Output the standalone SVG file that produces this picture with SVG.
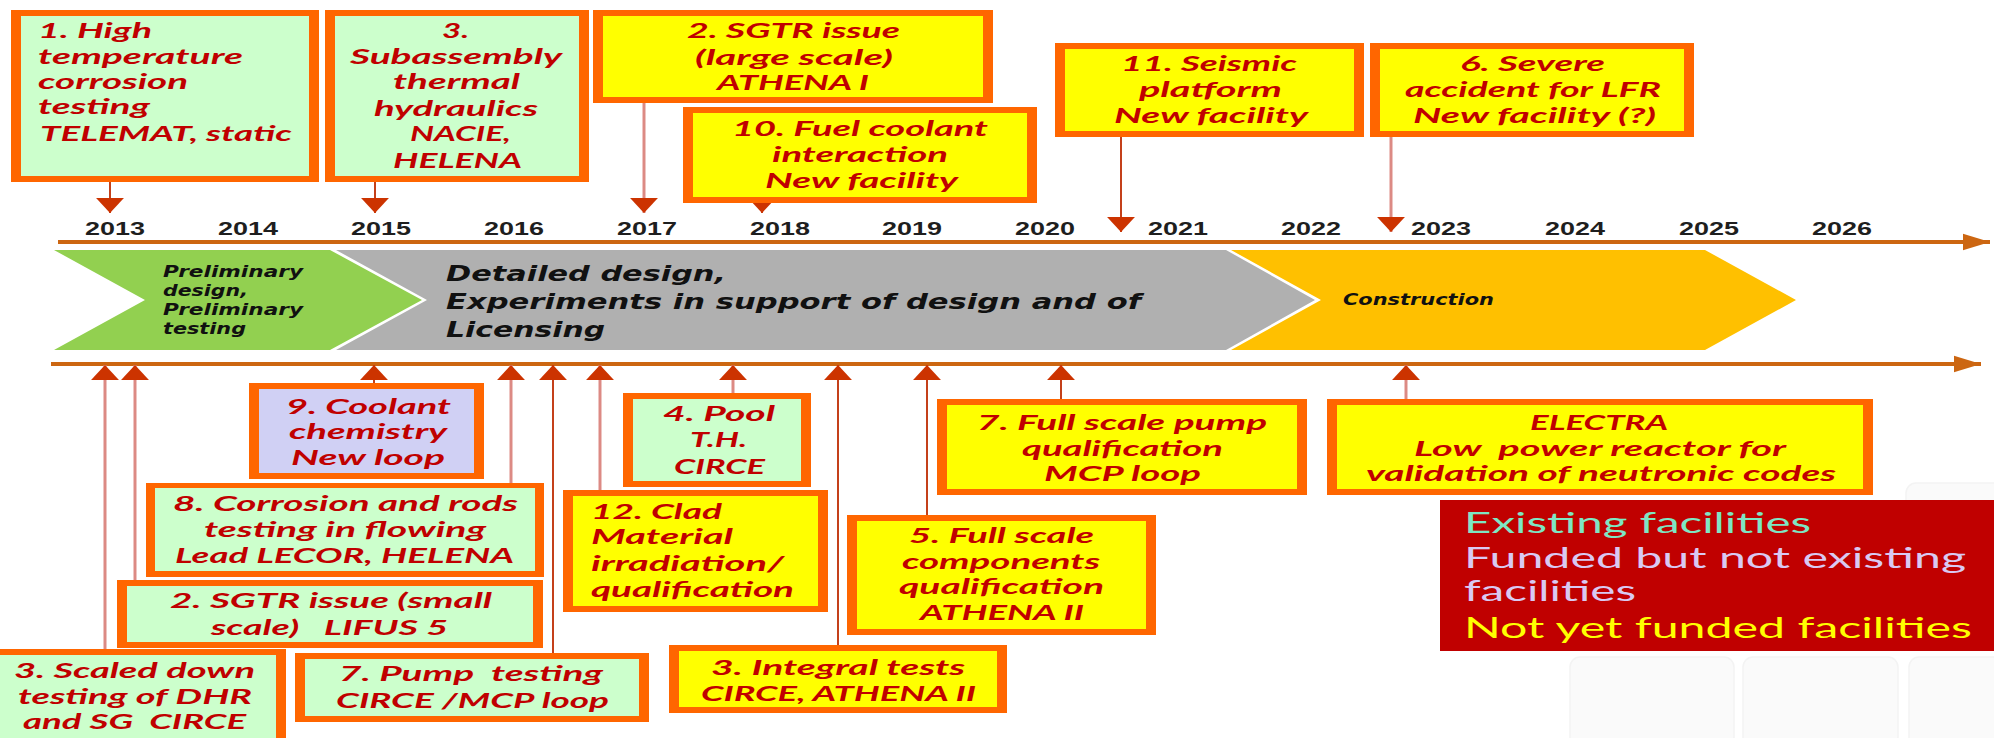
<svg xmlns="http://www.w3.org/2000/svg" width="1994" height="738" viewBox="0 0 1994 738">
  <style>
    .bo { fill: #ff6600; }
    .g { fill: #ccffcc; }
    .y { fill: #ffff00; }
    .l { fill: #d0d0f4; }
    .t { font-family: Lato, "Open Sans", sans-serif; font-weight: 700; font-style: italic; font-size: 21px; fill: #c00000; }
    .yr { font-family: "Liberation Sans", Arial, sans-serif; font-weight: 700; font-size: 19px; fill: #1e1e1e; }
    .band { font-family: "DejaVu Sans", Verdana, sans-serif; font-weight: 700; font-style: italic; fill: #111111; }
    .lg { font-family: Lato, "Open Sans", sans-serif; font-size: 29px; }
    .axis { stroke: #cc6611; stroke-width: 4; fill: none; }
    .pk { stroke: #dc8a84; stroke-width: 3; fill: none; }
    .sd { stroke: #c4401a; stroke-width: 2; fill: none; }
    .deco { fill: #fafafa; stroke: #f3f3f3; stroke-width: 1.5; }
  </style>
  <defs>
    <marker id="ah" markerUnits="userSpaceOnUse" markerWidth="15" markerHeight="28" viewBox="0 -13 14 26" refX="14" refY="0" orient="auto">
      <path d="M0,-13 L14,0 L0,13 Z" fill="#cc3300"/>
    </marker>
    <marker id="axh" markerUnits="userSpaceOnUse" markerWidth="27" markerHeight="18" viewBox="0 -8 26 16" refX="26" refY="0" orient="auto">
      <path d="M0,-8 L26,0 L0,8 Z" fill="#cc6611"/>
    </marker>
  </defs>

  <rect width="1994" height="738" fill="#ffffff"/>

  <!-- faint background tiles, bottom right -->
  <g id="tiles">
    <rect class="deco" x="1906" y="483" width="100" height="60" rx="10"/>
    <rect class="deco" x="1570" y="657" width="164" height="90" rx="10"/>
    <rect class="deco" x="1743" y="657" width="155" height="90" rx="10"/>
    <rect class="deco" x="1909" y="657" width="100" height="90" rx="10"/>
  </g>

  <!-- time axes -->
  <g id="axes">
    <line class="axis" x1="58" y1="242" x2="1990" y2="242" marker-end="url(#axh)"/>
    <line class="axis" x1="51" y1="364" x2="1981" y2="364" marker-end="url(#axh)"/>
  </g>

  <!-- year labels -->
  <g id="years">
    <text class="yr" x="85" y="235" textLength="60" lengthAdjust="spacingAndGlyphs">2013</text>
    <text class="yr" x="218" y="235" textLength="60" lengthAdjust="spacingAndGlyphs">2014</text>
    <text class="yr" x="351" y="235" textLength="60" lengthAdjust="spacingAndGlyphs">2015</text>
    <text class="yr" x="484" y="235" textLength="60" lengthAdjust="spacingAndGlyphs">2016</text>
    <text class="yr" x="617" y="235" textLength="60" lengthAdjust="spacingAndGlyphs">2017</text>
    <text class="yr" x="750" y="235" textLength="60" lengthAdjust="spacingAndGlyphs">2018</text>
    <text class="yr" x="882" y="235" textLength="60" lengthAdjust="spacingAndGlyphs">2019</text>
    <text class="yr" x="1015" y="235" textLength="60" lengthAdjust="spacingAndGlyphs">2020</text>
    <text class="yr" x="1148" y="235" textLength="60" lengthAdjust="spacingAndGlyphs">2021</text>
    <text class="yr" x="1281" y="235" textLength="60" lengthAdjust="spacingAndGlyphs">2022</text>
    <text class="yr" x="1411" y="235" textLength="60" lengthAdjust="spacingAndGlyphs">2023</text>
    <text class="yr" x="1545" y="235" textLength="60" lengthAdjust="spacingAndGlyphs">2024</text>
    <text class="yr" x="1679" y="235" textLength="60" lengthAdjust="spacingAndGlyphs">2025</text>
    <text class="yr" x="1812" y="235" textLength="60" lengthAdjust="spacingAndGlyphs">2026</text>
  </g>

  <!-- phase band -->
  <g id="phase-preliminary">
    <path d="M54,250 L330,250 L422,300 L330,350 L54,350 L145,300 Z" fill="#92d050"/>
    <text class="band" font-size="15" x="163" y="277" textLength="140" lengthAdjust="spacingAndGlyphs">Preliminary</text>
    <text class="band" font-size="15" x="163" y="296" textLength="85" lengthAdjust="spacingAndGlyphs">design,</text>
    <text class="band" font-size="15" x="163" y="315" textLength="140" lengthAdjust="spacingAndGlyphs">Preliminary</text>
    <text class="band" font-size="15" x="163" y="334" textLength="83" lengthAdjust="spacingAndGlyphs">testing</text>
  </g>
  <g id="phase-detailed">
    <path d="M336,250 L1226,250 L1315,300 L1226,350 L336,350 L427,300 Z" fill="#b0b0b0"/>
    <text class="band" font-size="22" x="446" y="281" textLength="280" lengthAdjust="spacingAndGlyphs">Detailed design,</text>
    <text class="band" font-size="22" x="446" y="309" textLength="695" lengthAdjust="spacingAndGlyphs">Experiments in support of design and of</text>
    <text class="band" font-size="22" x="446" y="337" textLength="159" lengthAdjust="spacingAndGlyphs">Licensing</text>
  </g>
  <g id="phase-construction">
    <path d="M1231,250 L1705,250 L1796,300 L1705,350 L1231,350 L1321,300 Z" fill="#ffc000"/>
    <text class="band" font-size="15" x="1343" y="305" textLength="151" lengthAdjust="spacingAndGlyphs">Construction</text>
  </g>

  <!-- connectors -->
  <g id="connectors">
    <line class="sd" x1="110" y1="182" x2="110" y2="213" marker-end="url(#ah)"/>
    <line class="sd" x1="375" y1="182" x2="375" y2="213" marker-end="url(#ah)"/>
    <line class="pk" x1="644" y1="103" x2="644" y2="213" marker-end="url(#ah)"/>
    <line class="sd" x1="762" y1="198" x2="762" y2="213" marker-end="url(#ah)"/>
    <line class="sd" x1="1121" y1="137" x2="1121" y2="232" marker-end="url(#ah)"/>
    <line class="pk" x1="1391" y1="137" x2="1391" y2="232" marker-end="url(#ah)"/>

    <line class="pk" x1="105" y1="652" x2="105" y2="365" marker-end="url(#ah)"/>
    <line class="pk" x1="135" y1="583" x2="135" y2="365" marker-end="url(#ah)"/>
    <line class="sd" x1="374" y1="386" x2="374" y2="365" marker-end="url(#ah)"/>
    <line class="pk" x1="511" y1="486" x2="511" y2="365" marker-end="url(#ah)"/>
    <line class="sd" x1="553" y1="656" x2="553" y2="365" marker-end="url(#ah)"/>
    <line class="pk" x1="600" y1="493" x2="600" y2="365" marker-end="url(#ah)"/>
    <line class="pk" x1="733" y1="396" x2="733" y2="365" marker-end="url(#ah)"/>
    <line class="sd" x1="838" y1="648" x2="838" y2="365" marker-end="url(#ah)"/>
    <line class="sd" x1="927" y1="518" x2="927" y2="365" marker-end="url(#ah)"/>
    <line class="sd" x1="1061" y1="402" x2="1061" y2="365" marker-end="url(#ah)"/>
    <line class="pk" x1="1406" y1="402" x2="1406" y2="365" marker-end="url(#ah)"/>
  </g>

  <!-- facility boxes above the axis -->
  <g id="telemat">
    <rect class="bo" x="11" y="10" width="308" height="172"/>
    <rect class="g" x="21" y="16" width="288" height="160"/>
    <text class="t" x="38" y="38" textLength="114" lengthAdjust="spacingAndGlyphs">1. High</text>
    <text class="t" x="38" y="64" textLength="205" lengthAdjust="spacingAndGlyphs">temperature</text>
    <text class="t" x="38" y="89" textLength="150" lengthAdjust="spacingAndGlyphs">corrosion</text>
    <text class="t" x="38" y="114" textLength="112" lengthAdjust="spacingAndGlyphs">testing</text>
    <text class="t" x="40" y="141" textLength="252" lengthAdjust="spacingAndGlyphs">TELEMAT, static</text>
  </g>
  <g id="subassembly">
    <rect class="bo" x="325" y="10" width="264" height="172"/>
    <rect class="g" x="335" y="16" width="244" height="160"/>
    <text class="t" x="442" y="38" textLength="27" lengthAdjust="spacingAndGlyphs">3.</text>
    <text class="t" x="350" y="64" textLength="212" lengthAdjust="spacingAndGlyphs">Subassembly</text>
    <text class="t" x="393" y="89" textLength="127" lengthAdjust="spacingAndGlyphs">thermal</text>
    <text class="t" x="374" y="116" textLength="164" lengthAdjust="spacingAndGlyphs">hydraulics</text>
    <text class="t" x="410" y="141" textLength="101" lengthAdjust="spacingAndGlyphs">NACIE,</text>
    <text class="t" x="393" y="168" textLength="129" lengthAdjust="spacingAndGlyphs">HELENA</text>
  </g>
  <g id="sgtr-large">
    <rect class="bo" x="593" y="10" width="400" height="93"/>
    <rect class="y" x="603" y="16" width="380" height="81"/>
    <text class="t" x="687" y="38" textLength="213" lengthAdjust="spacingAndGlyphs">2. SGTR issue</text>
    <text class="t" x="695" y="65" textLength="198" lengthAdjust="spacingAndGlyphs">(large scale)</text>
    <text class="t" x="717" y="90" textLength="152" lengthAdjust="spacingAndGlyphs">ATHENA I</text>
  </g>
  <g id="fuel-coolant">
    <rect class="bo" x="683" y="107" width="354" height="96"/>
    <rect class="y" x="693" y="113" width="334" height="84"/>
    <text class="t" x="732" y="136" textLength="256" lengthAdjust="spacingAndGlyphs">10. Fuel coolant</text>
    <text class="t" x="772" y="162" textLength="176" lengthAdjust="spacingAndGlyphs">interaction</text>
    <text class="t" x="765" y="188" textLength="193" lengthAdjust="spacingAndGlyphs">New facility</text>
  </g>
  <g id="seismic">
    <rect class="bo" x="1055" y="43" width="309" height="94"/>
    <rect class="y" x="1065" y="49" width="289" height="82"/>
    <text class="t" x="1121" y="71" textLength="176" lengthAdjust="spacingAndGlyphs">11. Seismic</text>
    <text class="t" x="1139" y="97" textLength="143" lengthAdjust="spacingAndGlyphs">platform</text>
    <text class="t" x="1114" y="123" textLength="194" lengthAdjust="spacingAndGlyphs">New facility</text>
  </g>
  <g id="severe-accident">
    <rect class="bo" x="1370" y="43" width="324" height="94"/>
    <rect class="y" x="1380" y="49" width="304" height="82"/>
    <text class="t" x="1460" y="71" textLength="145" lengthAdjust="spacingAndGlyphs">6. Severe</text>
    <text class="t" x="1405" y="97" textLength="256" lengthAdjust="spacingAndGlyphs">accident for LFR</text>
    <text class="t" x="1413" y="123" textLength="243" lengthAdjust="spacingAndGlyphs">New facility (?)</text>
  </g>

  <!-- facility boxes below the axis -->
  <g id="coolant-chemistry">
    <rect class="bo" x="249" y="383" width="235" height="96"/>
    <rect class="l" x="259" y="389" width="215" height="84"/>
    <text class="t" x="286" y="414" textLength="165" lengthAdjust="spacingAndGlyphs">9. Coolant</text>
    <text class="t" x="289" y="439" textLength="158" lengthAdjust="spacingAndGlyphs">chemistry</text>
    <text class="t" x="291" y="465" textLength="154" lengthAdjust="spacingAndGlyphs">New loop</text>
  </g>
  <g id="corrosion-rods">
    <rect class="bo" x="146" y="483" width="398" height="94"/>
    <rect class="g" x="155" y="488" width="380" height="83"/>
    <text class="t" x="173" y="511" textLength="345" lengthAdjust="spacingAndGlyphs">8. Corrosion and rods</text>
    <text class="t" x="204" y="537" textLength="282" lengthAdjust="spacingAndGlyphs">testing in flowing</text>
    <text class="t" x="175" y="563" textLength="339" lengthAdjust="spacingAndGlyphs">Lead LECOR, HELENA</text>
  </g>
  <g id="sgtr-small">
    <rect class="bo" x="117" y="580" width="426" height="68"/>
    <rect class="g" x="127" y="586" width="406" height="56"/>
    <text class="t" x="170" y="608" textLength="322" lengthAdjust="spacingAndGlyphs">2. SGTR issue (small</text>
    <text class="t" x="211" y="635" textLength="237" lengthAdjust="spacingAndGlyphs" xml:space="preserve">scale)   LIFUS 5</text>
  </g>
  <g id="scaled-down">
    <rect class="bo" x="-10" y="649" width="296" height="100"/>
    <rect class="g" x="0" y="655" width="276" height="90"/>
    <text class="t" x="14" y="678" textLength="241" lengthAdjust="spacingAndGlyphs">3. Scaled down</text>
    <text class="t" x="18" y="704" textLength="234" lengthAdjust="spacingAndGlyphs">testing of DHR</text>
    <text class="t" x="23" y="729" textLength="223" lengthAdjust="spacingAndGlyphs" xml:space="preserve">and SG  CIRCE</text>
  </g>
  <g id="pump-testing">
    <rect class="bo" x="295" y="653" width="354" height="69"/>
    <rect class="g" x="305" y="659" width="334" height="57"/>
    <text class="t" x="339" y="681" textLength="264" lengthAdjust="spacingAndGlyphs" xml:space="preserve">7. Pump  testing</text>
    <text class="t" x="336" y="708" textLength="273" lengthAdjust="spacingAndGlyphs">CIRCE /MCP loop</text>
  </g>
  <g id="pool-th">
    <rect class="bo" x="623" y="393" width="188" height="94"/>
    <rect class="g" x="633" y="399" width="168" height="82"/>
    <text class="t" x="663" y="421" textLength="112" lengthAdjust="spacingAndGlyphs">4. Pool</text>
    <text class="t" x="690" y="447" textLength="57" lengthAdjust="spacingAndGlyphs">T.H.</text>
    <text class="t" x="674" y="474" textLength="91" lengthAdjust="spacingAndGlyphs">CIRCE</text>
  </g>
  <g id="clad-material">
    <rect class="bo" x="563" y="490" width="265" height="122"/>
    <rect class="y" x="573" y="496" width="245" height="110"/>
    <text class="t" x="591" y="519" textLength="131" lengthAdjust="spacingAndGlyphs">12. Clad</text>
    <text class="t" x="591" y="544" textLength="142" lengthAdjust="spacingAndGlyphs">Material</text>
    <text class="t" x="591" y="571" textLength="193" lengthAdjust="spacingAndGlyphs">irradiation/</text>
    <text class="t" x="591" y="597" textLength="203" lengthAdjust="spacingAndGlyphs">qualification</text>
  </g>
  <g id="full-scale-components">
    <rect class="bo" x="847" y="515" width="309" height="120"/>
    <rect class="y" x="857" y="521" width="289" height="108"/>
    <text class="t" x="909" y="543" textLength="185" lengthAdjust="spacingAndGlyphs">5. Full scale</text>
    <text class="t" x="902" y="569" textLength="198" lengthAdjust="spacingAndGlyphs">components</text>
    <text class="t" x="899" y="594" textLength="205" lengthAdjust="spacingAndGlyphs">qualification</text>
    <text class="t" x="920" y="620" textLength="164" lengthAdjust="spacingAndGlyphs">ATHENA II</text>
  </g>
  <g id="integral-tests">
    <rect class="bo" x="669" y="645" width="338" height="68"/>
    <rect class="y" x="679" y="651" width="318" height="56"/>
    <text class="t" x="711" y="675" textLength="254" lengthAdjust="spacingAndGlyphs">3. Integral tests</text>
    <text class="t" x="701" y="701" textLength="275" lengthAdjust="spacingAndGlyphs">CIRCE, ATHENA II</text>
  </g>
  <g id="pump-qualification">
    <rect class="bo" x="937" y="399" width="370" height="96"/>
    <rect class="y" x="947" y="405" width="350" height="84"/>
    <text class="t" x="977" y="430" textLength="290" lengthAdjust="spacingAndGlyphs">7. Full scale pump</text>
    <text class="t" x="1022" y="456" textLength="201" lengthAdjust="spacingAndGlyphs">qualification</text>
    <text class="t" x="1044" y="481" textLength="157" lengthAdjust="spacingAndGlyphs">MCP loop</text>
  </g>
  <g id="electra">
    <rect class="bo" x="1327" y="399" width="546" height="96"/>
    <rect class="y" x="1337" y="405" width="526" height="84"/>
    <text class="t" x="1530" y="430" textLength="138" lengthAdjust="spacingAndGlyphs">ELECTRA</text>
    <text class="t" x="1414" y="456" textLength="372" lengthAdjust="spacingAndGlyphs" xml:space="preserve">Low  power reactor for</text>
    <text class="t" x="1366" y="481" textLength="470" lengthAdjust="spacingAndGlyphs">validation of neutronic codes</text>
  </g>

  <!-- colour legend -->
  <g id="legend">
    <rect x="1440" y="500" width="560" height="151" fill="#c00000"/>
    <text class="lg" x="1464" y="533" fill="#7ee6c4" textLength="347" lengthAdjust="spacingAndGlyphs">Existing facilities</text>
    <text class="lg" x="1464" y="568" fill="#d9c9f2" textLength="502" lengthAdjust="spacingAndGlyphs">Funded but not existing</text>
    <text class="lg" x="1464" y="601" fill="#d9c9f2" textLength="172" lengthAdjust="spacingAndGlyphs">facilities</text>
    <text class="lg" x="1464" y="638" fill="#ffff00" textLength="508" lengthAdjust="spacingAndGlyphs">Not yet funded facilities</text>
  </g>
</svg>
